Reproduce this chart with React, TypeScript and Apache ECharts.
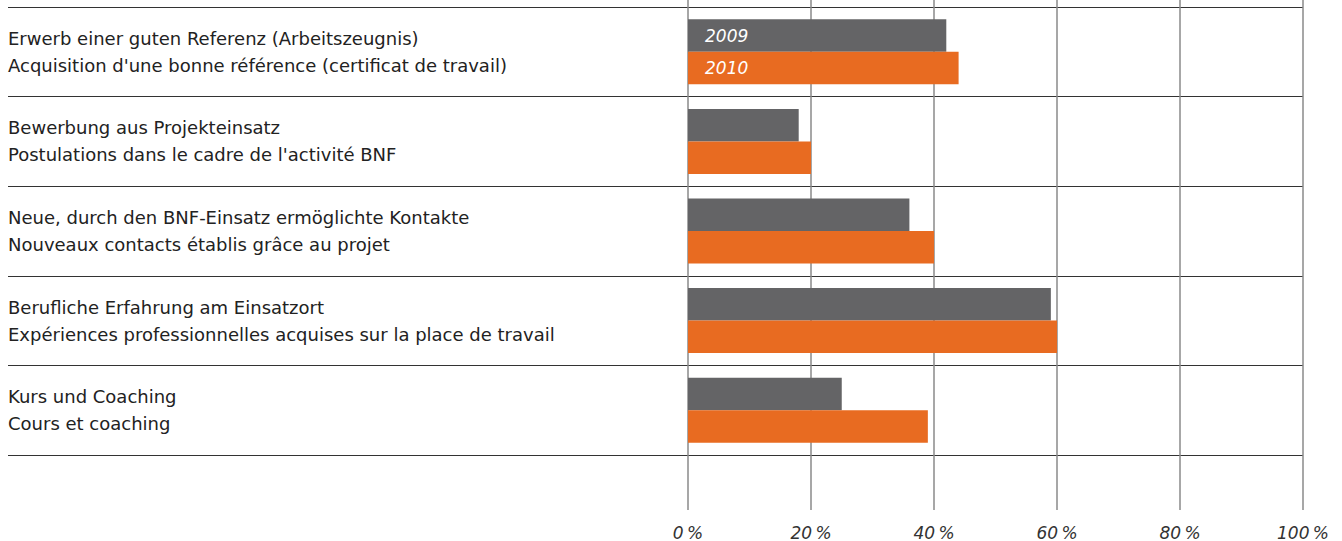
import React, { useEffect, useRef } from "react";
import * as echarts from "echarts";

const categoriesDe = [
  "Erwerb einer guten Referenz (Arbeitszeugnis)",
  "Bewerbung aus Projekteinsatz",
  "Neue, durch den BNF-Einsatz ermöglichte Kontakte",
  "Berufliche Erfahrung am Einsatzort",
  "Kurs und Coaching",
];
const categoriesFr = [
  "Acquisition d'une bonne référence (certificat de travail)",
  "Postulations dans le cadre de l'activité BNF",
  "Nouveaux contacts établis grâce au projet",
  "Expériences professionnelles acquises sur la place de travail",
  "Cours et coaching",
];
const seriesNames = ["2009", "2010"];
const values2009 = [42, 18, 36, 59, 25];
const values2010 = [44, 20, 40, 60, 39];
const tickValues = [0, 20, 40, 60, 80, 100];

const FONT = "DejaVu Sans";

export default function App() {
  const ref = useRef<HTMLDivElement>(null);
  useEffect(() => {
    if (!ref.current) return;
    const chart = echarts.init(ref.current, null, { renderer: "svg" });
    const cats = categoriesDe.map((d, i) => d + "\n" + categoriesFr[i]);
    const mkData = (vals: number[], name: string) =>
      vals.map((v, i) =>
        i === 0
          ? {
              value: v,
              label: {
                show: true,
                position: "insideLeft",
                distance: 17,
                formatter: name,
                color: "#ffffff",
                fontStyle: "italic",
                fontSize: 17,
                fontFamily: FONT,
              },
            }
          : v
      );
    chart.setOption({
      animation: false,
      backgroundColor: "#ffffff",
      grid: [
        { left: 688, right: 39, top: 7, height: 448 },
        { left: 688, right: 39, top: 0, height: 512 },
        { left: 8, right: 39, top: 7, height: 448 },
      ],
      xAxis: [
        { type: "value", gridIndex: 0, min: 0, max: 100, show: false },
        {
          type: "value",
          gridIndex: 1,
          min: 0,
          max: 100,
          interval: 20,
          axisLine: { show: false },
          axisTick: { show: false },
          splitLine: { show: true, lineStyle: { color: "#8a8a8a", width: 1.5 } },
          axisLabel: {
            margin: 14,
            color: "#333333",
            fontStyle: "italic",
            fontSize: 17,
            fontFamily: FONT,
            formatter: (v: number) => (tickValues.includes(v) ? v + "\u2009%" : ""),
          },
        },
        { type: "value", gridIndex: 2, min: 0, max: 1, show: false },
      ],
      yAxis: [
        { type: "category", gridIndex: 0, data: cats, inverse: true, show: false },
        { type: "value", gridIndex: 1, min: 0, max: 1, show: false },
        {
          type: "category",
          gridIndex: 2,
          data: cats,
          inverse: true,
          axisLine: { show: false },
          axisTick: { show: false },
          splitLine: { show: true, lineStyle: { color: "#333333", width: 1.2 } },
          axisLabel: {
            inside: true,
            margin: 0,
            align: "left",
            interval: 0,
            color: "#222222",
            fontSize: 18,
            lineHeight: 27,
            fontFamily: FONT,
          },
        },
      ],
      series: [
        {
          name: seriesNames[0],
          type: "bar",
          xAxisIndex: 0,
          yAxisIndex: 0,
          data: mkData(values2009, seriesNames[0]),
          barWidth: 32.5,
          barGap: "0%",
          itemStyle: { color: "#646466" },
          z: 5,
        },
        {
          name: seriesNames[1],
          type: "bar",
          xAxisIndex: 0,
          yAxisIndex: 0,
          data: mkData(values2010, seriesNames[1]),
          barWidth: 32.5,
          barGap: "0%",
          itemStyle: { color: "#E86B21" },
          z: 5,
        },
      ],
    });
    return () => chart.dispose();
  }, []);
  return <div ref={ref} style={{ width: 1342, height: 541, position: "absolute", left: 0, top: 0 }} />;
}
